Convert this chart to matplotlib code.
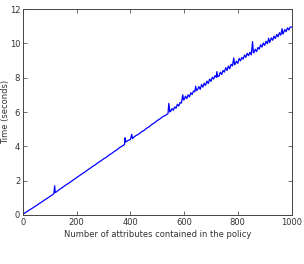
import matplotlib
matplotlib.use("Agg")
import matplotlib.pyplot as plt

x_vals = [0, 10, 20, 30, 40, 50, 60, 70, 80, 90, 100, 110, 115, 118, 120, 130,
          140, 150, 160, 170, 180, 190, 200, 210, 220, 230, 240, 250, 260, 270,
          280, 290, 300, 310, 320, 330, 340, 350, 360, 370, 378, 380, 383, 390,
          400, 405, 408, 410, 420, 430, 440, 450, 460, 470, 480, 490, 500, 510,
          520, 530, 540, 543, 547, 550, 555, 560, 565, 570, 575, 580, 585, 590,
          595, 598, 600, 605, 610, 615, 620, 625, 630, 635, 640, 643, 646, 650,
          655, 660, 665, 670, 675, 680, 685, 690, 695, 700, 705, 710, 715, 720,
          722, 725, 730, 735, 740, 745, 750, 755, 760, 765, 770, 775, 780, 785,
          788, 790, 795, 800, 805, 810, 815, 820, 825, 830, 835, 840, 845, 850,
          855, 858, 860, 865, 870, 875, 880, 885, 890, 895, 900, 905, 910, 915,
          918, 920, 925, 930, 935, 940, 945, 950, 955, 960, 965, 968, 970, 975,
          980, 985, 990, 995, 1000]
time_vals = [0.05, 0.15, 0.25, 0.35, 0.45, 0.55, 0.66, 0.76, 0.87, 0.97, 1.08, 1.18, 1.25, 1.70, 1.30, 1.42,
             1.53, 1.64, 1.75, 1.85, 1.96, 2.07, 2.18, 2.29, 2.40, 2.50, 2.62, 2.72, 2.84, 2.93,
             3.06, 3.15, 3.27, 3.36, 3.49, 3.58, 3.70, 3.80, 3.93, 4.02, 4.10, 4.50, 4.25, 4.33,
             4.40, 4.70, 4.45, 4.50, 4.62, 4.70, 4.83, 4.92, 5.05, 5.14, 5.28, 5.37, 5.50, 5.60,
             5.72, 5.80, 5.90, 6.50, 6.00, 6.05, 6.20, 6.10, 6.30, 6.22, 6.45, 6.35, 6.55, 6.52,
             7.00, 6.70, 6.72, 6.92, 6.78, 7.00, 6.88, 7.12, 7.02, 7.22, 7.18, 7.50, 7.25, 7.30,
             7.48, 7.32, 7.60, 7.45, 7.68, 7.55, 7.80, 7.66, 7.92, 7.78, 8.02, 7.92, 8.12, 8.02,
             8.35, 8.05, 8.10, 8.32, 8.18, 8.42, 8.32, 8.58, 8.42, 8.68, 8.52, 8.78, 8.68, 9.15,
             8.75, 8.80, 8.96, 8.83, 9.12, 8.98, 9.18, 9.08, 9.32, 9.18, 9.42, 9.28, 9.48, 9.33,
             10.10, 9.45, 9.45, 9.66, 9.52, 9.76, 9.66, 9.92, 9.78, 10.02, 9.88, 10.12, 9.98, 10.30,
             10.05, 10.10, 10.32, 10.18, 10.42, 10.28, 10.52, 10.38, 10.62, 10.48, 10.85, 10.55, 10.60, 10.80,
             10.68, 10.90, 10.78, 10.95, 10.95]

fig = plt.figure(figsize=(3.04, 2.64), dpi=100)
ax = fig.add_axes([23/304, 1 - 215/264, (291.5 - 23)/304, (215 - 9)/264])
ax.plot(x_vals, time_vals, color="#0000ff", linewidth=0.9)
ax.set_xlim(0, 1000)
ax.set_ylim(0, 12)
ax.set_xticks([0, 200, 400, 600, 800, 1000])
ax.set_yticks([0, 2, 4, 6, 8, 10, 12])
ax.tick_params(direction="in", top=True, right=True, labelsize=6, length=3, width=0.5, pad=2, colors="#333333")
for s in ax.spines.values():
    s.set_linewidth(0.7)
    s.set_color("#444444")
ax.set_xlabel("Number of attributes contained in the policy", fontsize=6, labelpad=2, color="#333333")
ax.set_ylabel("Time (seconds)", fontsize=6, color="#333333")
ax.yaxis.set_label_coords(-0.05, 0.5)
fig.savefig("out.png", dpi=100)
